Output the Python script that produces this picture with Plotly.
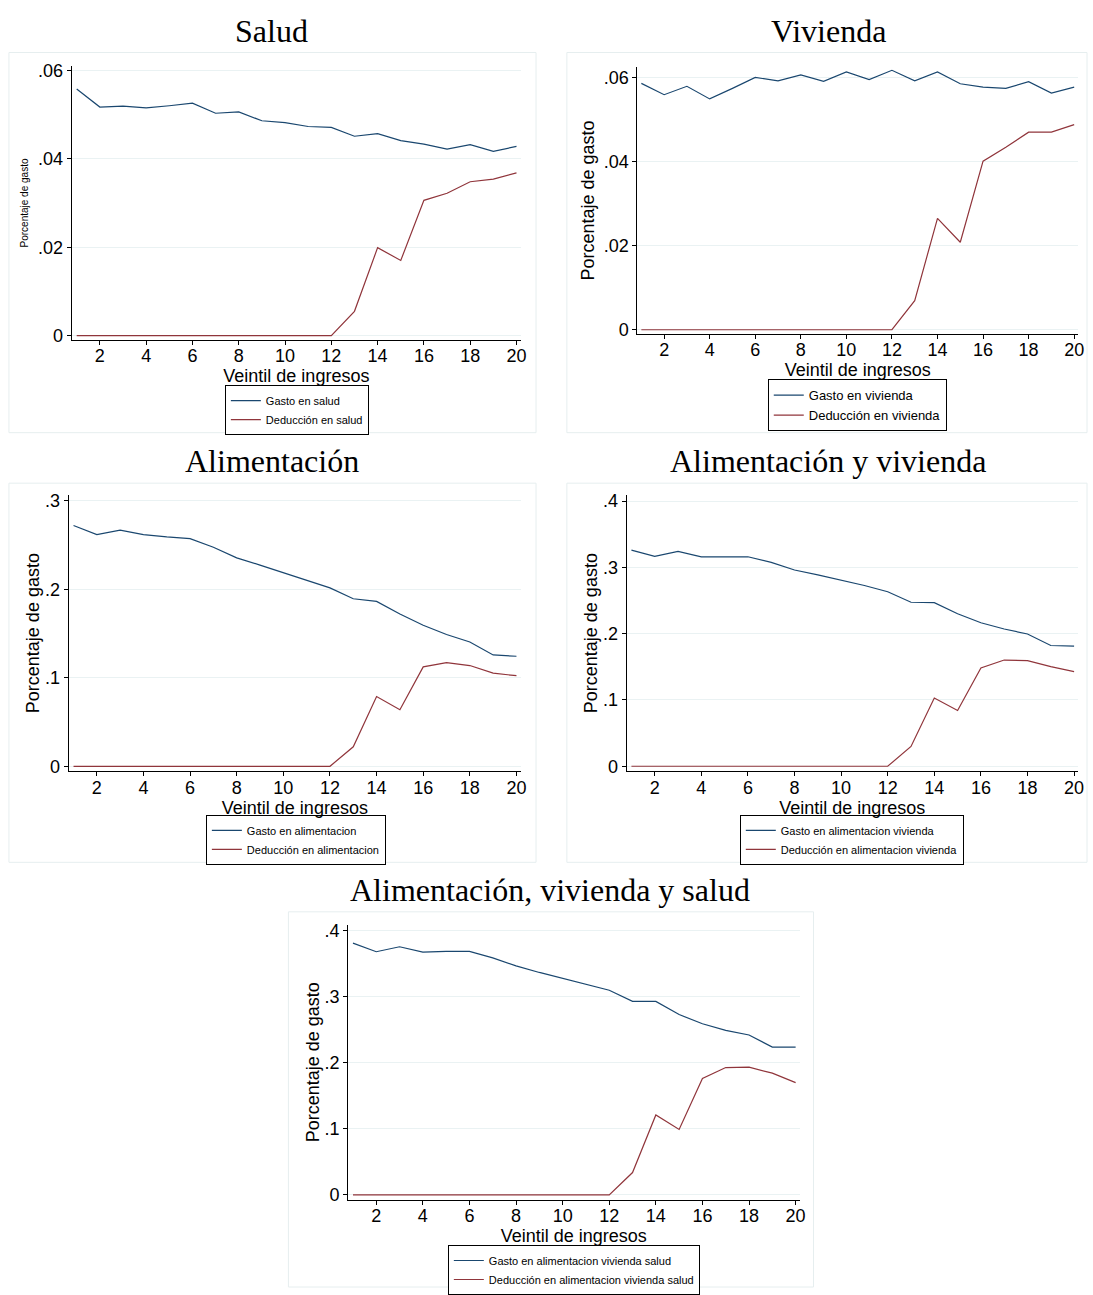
import plotly.graph_objects as go

W, H = 1093, 1295

veintil = list(range(1, 21))

# Salud
gasto_salud = [0.0558, 0.0517, 0.0519, 0.0515, 0.0520, 0.0526, 0.0503, 0.0506, 0.0486, 0.0482,
               0.0473, 0.0471, 0.0451, 0.0457, 0.0441, 0.0433, 0.0422, 0.0432, 0.0417, 0.0428]
deduc_salud = [0, 0, 0, 0, 0, 0, 0, 0, 0, 0, 0, 0, 0.0055, 0.0199, 0.0170, 0.0306, 0.0322, 0.0348, 0.0354, 0.0368]

# Vivienda
gasto_vivienda = [0.0586, 0.0559, 0.0579, 0.0549, 0.0574, 0.0600, 0.0592, 0.0606, 0.0591, 0.0613,
                  0.0595, 0.0617, 0.0592, 0.0613, 0.0585, 0.0577, 0.0574, 0.0590, 0.0563, 0.0577]
deduc_vivienda = [0, 0, 0, 0, 0, 0, 0, 0, 0, 0, 0, 0, 0.0069, 0.0265, 0.0208, 0.0401, 0.0434, 0.0470, 0.0470, 0.0488]

# Alimentacion
gasto_alim = [0.2723, 0.2619, 0.2671, 0.2619, 0.2593, 0.2574, 0.2477, 0.2357, 0.2275, 0.2189,
              0.2107, 0.2017, 0.1894, 0.1864, 0.1722, 0.1595, 0.1490, 0.1405, 0.1259, 0.1244]
deduc_alim = [0, 0, 0, 0, 0, 0, 0, 0, 0, 0, 0, 0, 0.0220, 0.0788, 0.0639, 0.1124, 0.1173, 0.1139, 0.1053, 0.1024]

# Alimentacion y vivienda
gasto_alim_viv = [0.3259, 0.3164, 0.3239, 0.3159, 0.3159, 0.3159, 0.3075, 0.2960, 0.2886, 0.2811,
                  0.2726, 0.2632, 0.2473, 0.2468, 0.2299, 0.2164, 0.2070, 0.1995, 0.1821, 0.1811]
deduc_alim_viv = [0, 0, 0, 0, 0, 0, 0, 0, 0, 0, 0, 0, 0.0299, 0.1030, 0.0841, 0.1483, 0.1602, 0.1592, 0.1502, 0.1428]

# Alimentacion, vivienda y salud
gasto_total = [0.3811, 0.3681, 0.3756, 0.3676, 0.3686, 0.3686, 0.3587, 0.3467, 0.3367, 0.3278,
               0.3178, 0.3098, 0.2929, 0.2929, 0.2730, 0.2590, 0.2491, 0.2421, 0.2237, 0.2237]
deduc_total = [0, 0, 0, 0, 0, 0, 0, 0, 0, 0, 0, 0, 0.0339, 0.1210, 0.0991, 0.1763, 0.1928, 0.1933, 0.1843, 0.1699]

x_ticks = [2, 4, 6, 8, 10, 12, 14, 16, 18, 20]
small_ticks = [0, 0.02, 0.04, 0.06]
small_labels = ["0", ".02", ".04", ".06"]
ticks_3 = [0, 0.1, 0.2, 0.3]
labels_3 = ["0", ".1", ".2", ".3"]
ticks_4 = [0, 0.1, 0.2, 0.3, 0.4]
labels_4 = ["0", ".1", ".2", ".3", ".4"]

BLUE = "#1a476f"
RED = "#90353b"
GRID = "#eaf2f3"
FRAME = "#e6eeef"

# plot box in px (left, right, top, bottom), frame box, title / legend position
panels = [
    dict(title="Salud", g=gasto_salud, d=deduc_salud,
         names=["Gasto en salud", "Deducción en salud"],
         yt=small_ticks, yl=small_labels,
         box=(72, 524, 61, 337), yr=(-0.0009, 0.0609), xr=(0.78, 20.2),
         frame=(9, 539, 47, 431), tpos=(273, 25), lpos=(298.5, 383),
         yfs=10, ystand=7, lfs=11),
    dict(title="Vivienda", g=gasto_vivienda, d=deduc_vivienda,
         names=["Gasto en vivienda", "Deducción en vivienda"],
         yt=small_ticks, yl=small_labels,
         box=(641, 1084, 62, 331), yr=(-0.00094, 0.0624), xr=(0.83, 20.17),
         frame=(570, 1093, 47, 431), tpos=(833, 25), lpos=(862, 377),
         yfs=18, ystand=4, lfs=13),
    dict(title="Alimentación", g=gasto_alim, d=deduc_alim,
         names=["Gasto en alimentacion", "Deducción en alimentacion"],
         yt=ticks_3, yl=labels_3,
         box=(69, 524, 494, 773), yr=(-0.0056, 0.3067), xr=(0.79, 20.2),
         frame=(9, 539, 482, 865), tpos=(273, 460), lpos=(297.5, 817),
         yfs=18, ystand=0, lfs=11),
    dict(title="Alimentación y vivienda", g=gasto_alim_viv, d=deduc_alim_viv,
         names=["Gasto en alimentacion vivienda", "Deducción en alimentacion vivienda"],
         yt=ticks_4, yl=labels_4,
         box=(630, 1084, 494, 773), yr=(-0.0075, 0.409), xr=(0.79, 20.17),
         frame=(570, 1093, 482, 865), tpos=(833, 460), lpos=(856.5, 817),
         yfs=18, ystand=0, lfs=11),
    dict(title="Alimentación, vivienda y salud", g=gasto_total, d=deduc_total,
         names=["Gasto en alimentacion vivienda salud", "Deducción en alimentacion vivienda salud"],
         yt=ticks_4, yl=labels_4,
         box=(350, 804, 928, 1206), yr=(-0.0075, 0.409), xr=(0.79, 20.17),
         frame=(290, 818, 915, 1294), tpos=(553, 893), lpos=(577, 1252),
         yfs=18, ystand=0, lfs=11),
]


def px_x(v):
    return v / W


def px_y(v):
    return 1 - v / H


fig = go.Figure()
layout = dict(width=W, height=H, margin=dict(l=0, r=0, t=0, b=0),
              paper_bgcolor="white", plot_bgcolor="white",
              font=dict(family="Liberation Sans, Arial", color="black"),
              shapes=[], annotations=[])

for i, p in enumerate(panels):
    n = "" if i == 0 else str(i + 1)
    leg = "legend" + n
    fig.add_trace(go.Scatter(x=veintil, y=p["g"], mode="lines", name=p["names"][0],
                             line=dict(color=BLUE, width=1.2), xaxis="x" + n, yaxis="y" + n, legend=leg))
    fig.add_trace(go.Scatter(x=veintil, y=p["d"], mode="lines", name=p["names"][1],
                             line=dict(color=RED, width=1.2), xaxis="x" + n, yaxis="y" + n, legend=leg))
    l, r, t, b = p["box"]
    layout["xaxis" + n] = dict(domain=[px_x(l), px_x(r)], anchor="y" + n, range=list(p["xr"]),
                               tickvals=x_ticks, showgrid=False, zeroline=False,
                               showline=True, linecolor="black", linewidth=1,
                               ticks="outside", ticklen=4, tickcolor="black",
                               ticklabelstandoff=-4,
                               tickfont=dict(size=18), title=dict(text="Veintil de ingresos",
                                                                  font=dict(size=18), standoff=0))
    layout["yaxis" + n] = dict(domain=[px_y(b), px_y(t)], anchor="x" + n, range=list(p["yr"]),
                               tickvals=p["yt"], ticktext=p["yl"], showgrid=True, gridcolor=GRID,
                               zeroline=False, showline=True, linecolor="black", linewidth=1,
                               ticks="outside", ticklen=4, tickcolor="black",
                               tickfont=dict(size=18),
                               title=dict(text="Porcentaje de gasto", font=dict(size=p["yfs"]),
                                          standoff=p["ystand"]))
    fl, fr, ft, fb = p["frame"]
    layout["shapes"].append(dict(type="rect", xref="paper", yref="paper",
                                 x0=px_x(fl), x1=px_x(fr), y0=px_y(fb), y1=px_y(ft),
                                 line=dict(color=FRAME, width=1), layer="below"))
    tx, ty = p["tpos"]
    layout["annotations"].append(dict(text=p["title"], xref="paper", yref="paper",
                                      x=px_x(tx), y=px_y(ty), xanchor="center", yanchor="middle",
                                      showarrow=False,
                                      font=dict(family="Liberation Serif, Times New Roman", size=32)))
    lx, ly = p["lpos"]
    layout[leg] = dict(x=px_x(lx), y=px_y(ly), xanchor="center", yanchor="top",
                       bordercolor="black", borderwidth=1, bgcolor="white",
                       font=dict(size=p["lfs"]), itemwidth=30, tracegroupgap=0)

fig.update_layout(**layout)
# no page margin or scrollbars so the figure sits at the window corner
fig.write_html("out.html", config={"displayModeBar": False},
               post_script="document.body.style.margin = '0px'; document.body.style.overflow = 'hidden';")
